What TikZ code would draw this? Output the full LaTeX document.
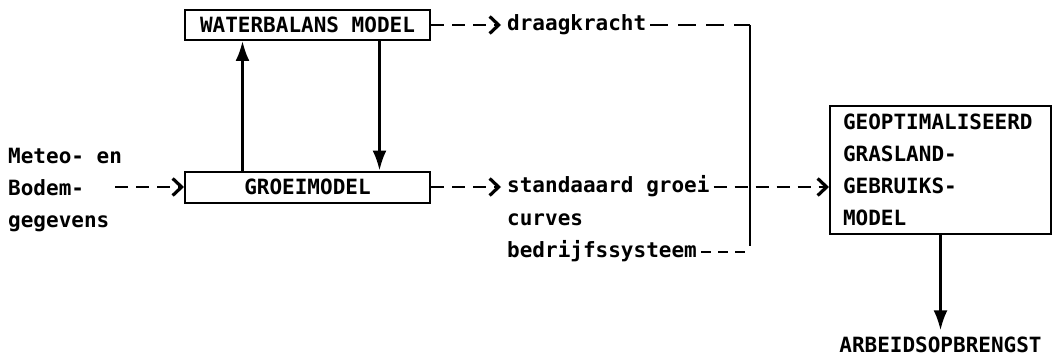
\documentclass[tikz,border=0pt]{standalone}
\usepackage{fontspec}
\newfontfamily\plotfont{DejaVu Sans Mono}
\usetikzlibrary{arrows.meta}

\tikzset{
  modelbox/.style={draw, line width=2pt, minimum width=245pt, minimum height=30pt, inner sep=0pt},
  txt/.style={inner sep=0pt, anchor=west, text height=15pt, text depth=4pt},
  txtblock/.style={inner sep=0pt, anchor=west, align=left},
  flow/.style={line width=2.6pt, -{Latex[length=20pt,width=14pt]}},
  feed/.style={line width=2.8pt, dash pattern=on 13pt off 8pt, -{Straight Barb[length=9pt,width=17pt,line width=3.2pt]}},
  link/.style={line width=2.8pt, dash pattern=on 13pt off 8pt},
}

\begin{document}
\begin{tikzpicture}[x=1pt, y=-1pt, font=\plotfont\bfseries\fontsize{21}{32}\selectfont]
			\useasboundingbox (0,0) rectangle (1053,361);

			% Models
			\node[modelbox] (wb) at (307.5,25) {WATERBALANS MODEL};
			\node[modelbox, minimum height=31pt] (groei) at (307.5,187) {GROEIMODEL};
			\node[draw, line width=2pt, anchor=north west, text width=195pt, align=left,
			      inner xsep=13pt, minimum height=128pt] (gras) at (829,105)
			      {GEOPTIMALISEERD\\GRASLAND-\\GEBRUIKS-\\MODEL};

			% Input and output texts
			\node[txtblock] (invoer) at (8,190) {Meteo- en\\Bodem-\\gegevens};
			\coordinate (in) at (115,187);
			\node[txt] (draag) at (507,25) {draagkracht};
			\node[txt] (std) at (507,187) {standaaard groei};
			\node[txt] (curves) at (507,220) {curves};
			\node[txt] (bedrijf) at (507,252) {bedrijfssysteem};
			\coordinate (onder) at (0,347);
			\node[txt, anchor=center] (arbeid) at (gras.south |- onder) {ARBEIDSOPBRENGST};

			% Collecting line
			\coordinate (knik) at (750,25);
			\coordinate (voet) at (750,246);

			% Solid arrows
			\draw[flow] ([xshift=-65pt]groei.north) -- ([xshift=-65pt]wb.south);
			\draw[flow] ([xshift=72pt]wb.south) -- ([xshift=72pt]groei.north);
			\draw[flow, shorten >=7pt] (gras.south) -- (arbeid.north);

			% Dashed connections
			\draw[feed] (in) -- (groei.west);
			\draw[feed, shorten >=6pt] (wb.east) -- (draag.west);
			\draw[feed, shorten >=6pt] (groei.east) -- (std.west);
			\draw[link, dash pattern=on 18pt off 10pt] ([xshift=4pt]draag.east) -- (knik);
			\draw[line width=2.6pt] (knik) -- (voet);
			\draw[link, dash pattern=on 10pt off 7pt] ([xshift=4pt]bedrijf.east) -- (bedrijf.east -| knik);
			\draw[feed] ([xshift=4pt]std.east) -- (std.east -| gras.west);
		\end{tikzpicture}
\end{document}
